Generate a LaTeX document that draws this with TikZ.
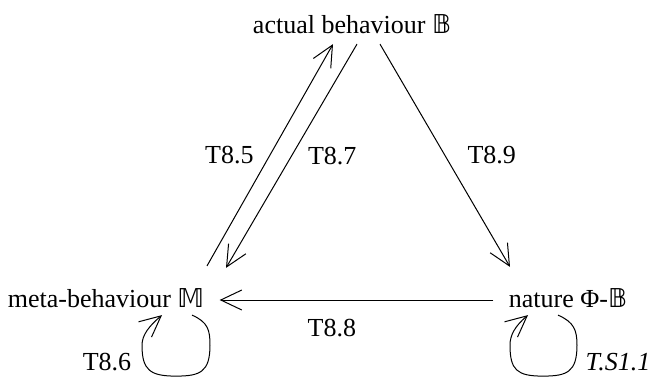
\documentclass[tikz,border=0pt]{standalone}
\usepackage{amsmath,amssymb}
\usepackage{fontspec}
\setmainfont{Liberation Serif}
\newfontfamily\dsfont{DejaVu Sans}
\usetikzlibrary{positioning,arrows.meta}

\begin{document}
\begin{tikzpicture}[x=1pt,y=-1pt,>={Straight Barb[length=21pt,width=20pt]},line width=1pt,font=\fontsize{26}{30}\selectfont,every node/.style={inner sep=0pt}]
\useasboundingbox (0,0) rectangle (654,381);
\node (act) at (352,24) {actual behaviour {\dsfont 𝔹}};
\node (meta) at (106,298) {meta-behaviour {\dsfont 𝕄}};
\node (nat) at (568,298) {nature Φ-{\dsfont 𝔹}};
\draw[->] ([xshift=101pt,yshift=22pt]meta.north) -- ([xshift=-19pt,yshift=-10pt]act.south) node[midway,left=16pt]{T8.5};
\draw[->] ([xshift=5pt,yshift=-10pt]act.south) -- ([xshift=120pt,yshift=20pt]meta.north) node[midway,right=16pt]{T8.7};
\draw[->] ([xshift=28pt,yshift=-10pt]act.south) -- ([xshift=-58pt,yshift=21pt]nat.north) node[midway,right=22pt]{T8.9};
\draw[->] ([xshift=-15pt,yshift=-2pt]nat.west) -- ([xshift=15pt,yshift=-2pt]meta.east) node[pos=0.59,below=19pt]{T8.8};
% self loops
\draw[->] ([xshift=86pt,yshift=-7pt]meta.south) .. controls +(16,7) and +(0,-15) .. ++(18,30) .. controls +(0,27) and +(24,0) .. ++(-34,31) .. controls +(-26,0) and +(0,25) .. ++(-34,-31) .. controls +(0,-10) and +(-13,11) .. ([xshift=56pt,yshift=-7pt]meta.south);
\draw[->] ([xshift=-10pt,yshift=-7pt]nat.south) .. controls +(16,7) and +(0,-15) .. ++(19,30) .. controls +(0,27) and +(24,0) .. ++(-34,31) .. controls +(-26,0) and +(0,25) .. ++(-33,-31) .. controls +(0,-10) and +(-13,11) .. ([xshift=-40pt,yshift=-7pt]nat.south);
\node (l86) at (107,362) {T8.6};
\node (ls11) at (618,362) {\itshape T.S1.1};
\end{tikzpicture}
\end{document}
